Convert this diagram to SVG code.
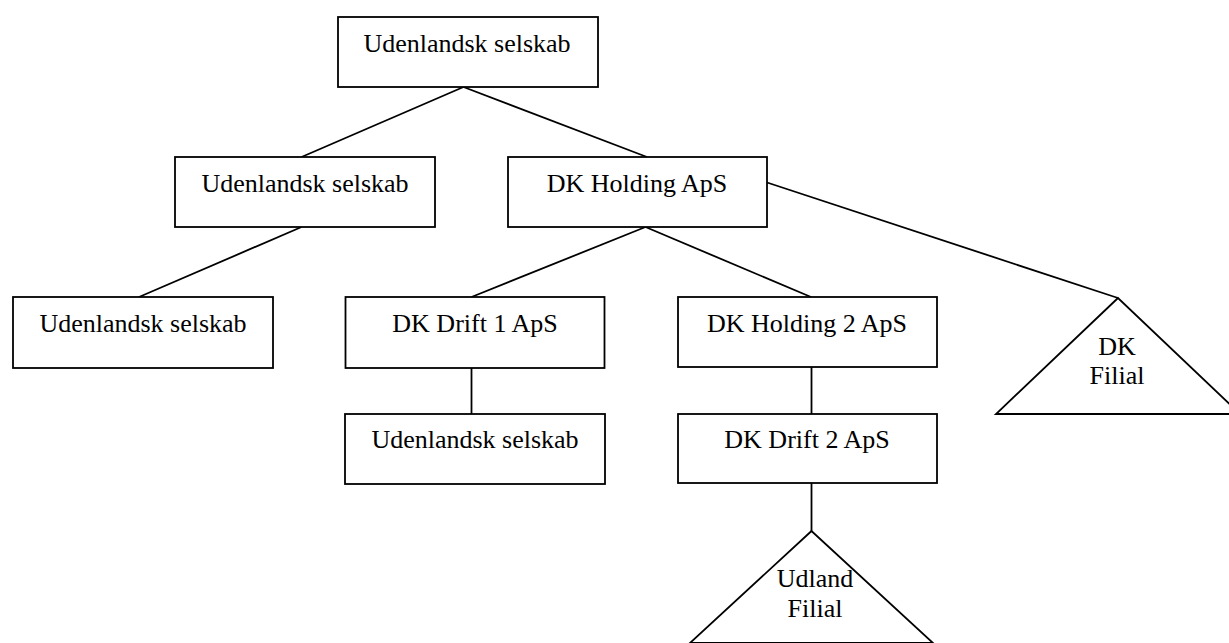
<svg xmlns="http://www.w3.org/2000/svg" width="1229" height="643" viewBox="0 0 1229 643">
<style>
.box{fill:#fff;stroke:#000;stroke-width:1.8}
.tri{fill:#fff;stroke:#000;stroke-width:1.8}
.lbl{font-family:"Liberation Serif","Times New Roman",serif;font-size:26px;fill:#000;text-anchor:middle}
.con line{stroke:#000;stroke-width:1.8}
</style>
<rect width="1229" height="643" fill="#fff"/>
<g id="connectors" class="con">
<line x1="463.5" y1="87" x2="301.5" y2="157"/>
<line x1="463.5" y1="87" x2="647" y2="157"/>
<line x1="301.5" y1="227" x2="139" y2="297"/>
<line x1="645.5" y1="227" x2="471.5" y2="297"/>
<line x1="645.5" y1="227" x2="811" y2="297"/>
<line x1="767" y1="182.5" x2="1118" y2="298"/>
<line x1="471.5" y1="368" x2="471.5" y2="414"/>
<line x1="811.5" y1="367" x2="811.5" y2="414"/>
<line x1="811.5" y1="483" x2="811.5" y2="531"/>
</g>
<g id="n1"><rect class="box" x="338" y="17" width="260" height="70"/><text class="lbl" x="467" y="52">Udenlandsk selskab</text></g>
<g id="n2"><rect class="box" x="175" y="157" width="260" height="70"/><text class="lbl" x="305" y="192">Udenlandsk selskab</text></g>
<g id="n3"><rect class="box" x="508" y="157" width="259" height="70"/><text class="lbl" x="637" y="192">DK Holding ApS</text></g>
<g id="n4"><rect class="box" x="13" y="297" width="260" height="71"/><text class="lbl" x="143" y="332">Udenlandsk selskab</text></g>
<g id="n5"><rect class="box" x="345.5" y="297" width="259" height="71"/><text class="lbl" x="475" y="332">DK Drift 1 ApS</text></g>
<g id="n6"><rect class="box" x="678" y="297" width="259" height="70"/><text class="lbl" x="807" y="332">DK Holding 2 ApS</text></g>
<g id="n7"><rect class="box" x="345" y="414" width="260" height="70"/><text class="lbl" x="475" y="448">Udenlandsk selskab</text></g>
<g id="n8"><rect class="box" x="678" y="414" width="259" height="69"/><text class="lbl" x="807" y="448">DK Drift 2 ApS</text></g>
<g id="n9"><polygon class="tri" points="1118,298 996,414 1240,414"/><text class="lbl" x="1117" y="355">DK</text><text class="lbl" x="1117" y="384">Filial</text></g>
<g id="n10"><polygon class="tri" points="811.5,531 690,643 933,643"/><text class="lbl" x="815" y="587">Udland</text><text class="lbl" x="815" y="617">Filial</text></g>
</svg>
